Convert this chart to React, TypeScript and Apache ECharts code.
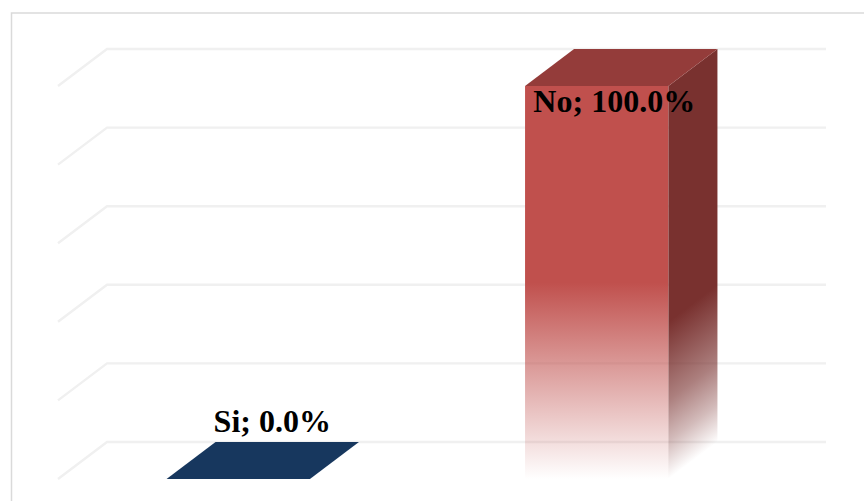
import React, { useEffect, useRef } from "react";
import * as echarts from "echarts";

const categories = ["Si", "No"];
const values = [0, 100];
const gridTicks = [0, 20, 40, 60, 80, 100];
const frontColors = ["23,55,94", "192,80,77"];
const sideColors = ["16,40,70", "121,49,47"];
const topColors = ["#17375E", "#943C3A"];
const labelOffsets = [
  [34, -58],
  [17.5, 15],
];

const DEPTH_X = 49;
const DEPTH_Y = -37;
const BAR_RATIO = 0.4;
const GRID_OVERHANG = 1;
const FADE_FROM = 50;

const fade = (rgb: string) => [
  { offset: 0, color: `rgba(${rgb},1)` },
  { offset: 1, color: `rgba(${rgb},0)` },
];

const sideFade = (rgb: string) => [
  { offset: 0, color: `rgba(${rgb},1)` },
  { offset: 0.2, color: `rgba(${rgb},1)` },
  { offset: 0.6, color: `rgba(${rgb},0.62)` },
  { offset: 0.81, color: `rgba(${rgb},0.33)` },
  { offset: 1, color: `rgba(${rgb},0)` },
];

function renderGrid(params: any, api: any) {
  const cs = params.coordSys;
  const y = api.coord([0, api.value(1)])[1];
  const x0 = cs.x - GRID_OVERHANG;
  return {
    type: "polyline",
    silent: true,
    shape: {
      points: [
        [x0, y],
        [x0 + DEPTH_X, y + DEPTH_Y],
        [cs.x + cs.width + GRID_OVERHANG + DEPTH_X, y + DEPTH_Y],
      ],
    },
    style: { fill: "none", stroke: "#F0F0F0", lineWidth: 2.4 },
  };
}

function renderBar(params: any, api: any) {
  const i = api.value(0);
  const v = api.value(1);
  const [cx, y0] = api.coord([i, 0]);
  const y1 = api.coord([i, v])[1];
  const yFade = api.coord([i, Math.min(FADE_FROM, v)])[1];
  const w = api.size([1, 0])[0] * BAR_RATIO;
  const l = cx - w / 2;
  const r = cx + w / 2;
  const span = y0 - yFade;
  const len = Math.hypot(DEPTH_X, DEPTH_Y);
  const nx = -DEPTH_Y / len;
  const ny = DEPTH_X / len;
  const proj = span * ny;
  const children: any[] = [];
  if (v > 0) {
    children.push({
      type: "polygon",
      shape: { points: [[l, y1], [r, y1], [r, y0], [l, y0]] },
      style: {
        fill: new echarts.graphic.LinearGradient(0, yFade, 0, y0, fade(frontColors[i]), true),
      },
    });
    children.push({
      type: "polygon",
      shape: {
        points: [
          [r, y1],
          [r + DEPTH_X, y1 + DEPTH_Y],
          [r + DEPTH_X, y0 + DEPTH_Y],
          [r, y0],
        ],
      },
      style: {
        fill: new echarts.graphic.LinearGradient(
          r,
          yFade,
          r + nx * proj,
          yFade + ny * proj,
          sideFade(sideColors[i]),
          true,
        ),
      },
    });
  }
  children.push({
    type: "polygon",
    shape: {
      points: [
        [l, y1],
        [l + DEPTH_X, y1 + DEPTH_Y],
        [r + DEPTH_X, y1 + DEPTH_Y],
        [r, y1],
      ],
    },
    style: { fill: topColors[i] },
  });
  children.push({
    type: "text",
    z2: 10,
    style: {
      x: cx + labelOffsets[i][0],
      y: y1 + labelOffsets[i][1],
      text: `${categories[i]}; ${values[i].toFixed(1)}%`,
      fill: "#000000",
      font: 'bold 32px "Liberation Serif", "Times New Roman", serif',
      align: "center",
      verticalAlign: "middle",
    },
  });
  return { type: "group", children };
}

export default function App() {
  const ref = useRef<HTMLDivElement>(null);

  useEffect(() => {
    document.body.style.margin = "0";
    document.body.style.overflow = "hidden";
    const chart = echarts.init(ref.current!, undefined, { renderer: "svg" });
    chart.setOption({
      animation: false,
      backgroundColor: "#FFFFFF",
      grid: { left: 59, right: 88, top: 86, bottom: 22 },
      xAxis: { type: "category", data: categories, show: false },
      yAxis: { type: "value", min: 0, max: 100, interval: 20, show: false },
      tooltip: { show: false },
      graphic: [
        {
          type: "polyline",
          silent: true,
          shape: { points: [[11.5, 501], [11.5, 13], [864, 13]] },
          style: { fill: "none", stroke: "#DADADA", lineWidth: 1.5 },
        },
      ],
      series: [
        {
          type: "custom",
          name: "grid",
          z: 1,
          clip: false,
          silent: true,
          renderItem: renderGrid,
          data: gridTicks.map((t) => [0, t]),
          encode: { x: 0, y: 1 },
        },
        {
          type: "custom",
          name: "bars",
          z: 2,
          clip: false,
          silent: true,
          renderItem: renderBar,
          data: values.map((v, i) => [i, v]),
          encode: { x: 0, y: 1 },
        },
      ],
    });
    return () => chart.dispose();
  }, []);

  return <div ref={ref} style={{ width: 864, height: 501 }} />;
}
